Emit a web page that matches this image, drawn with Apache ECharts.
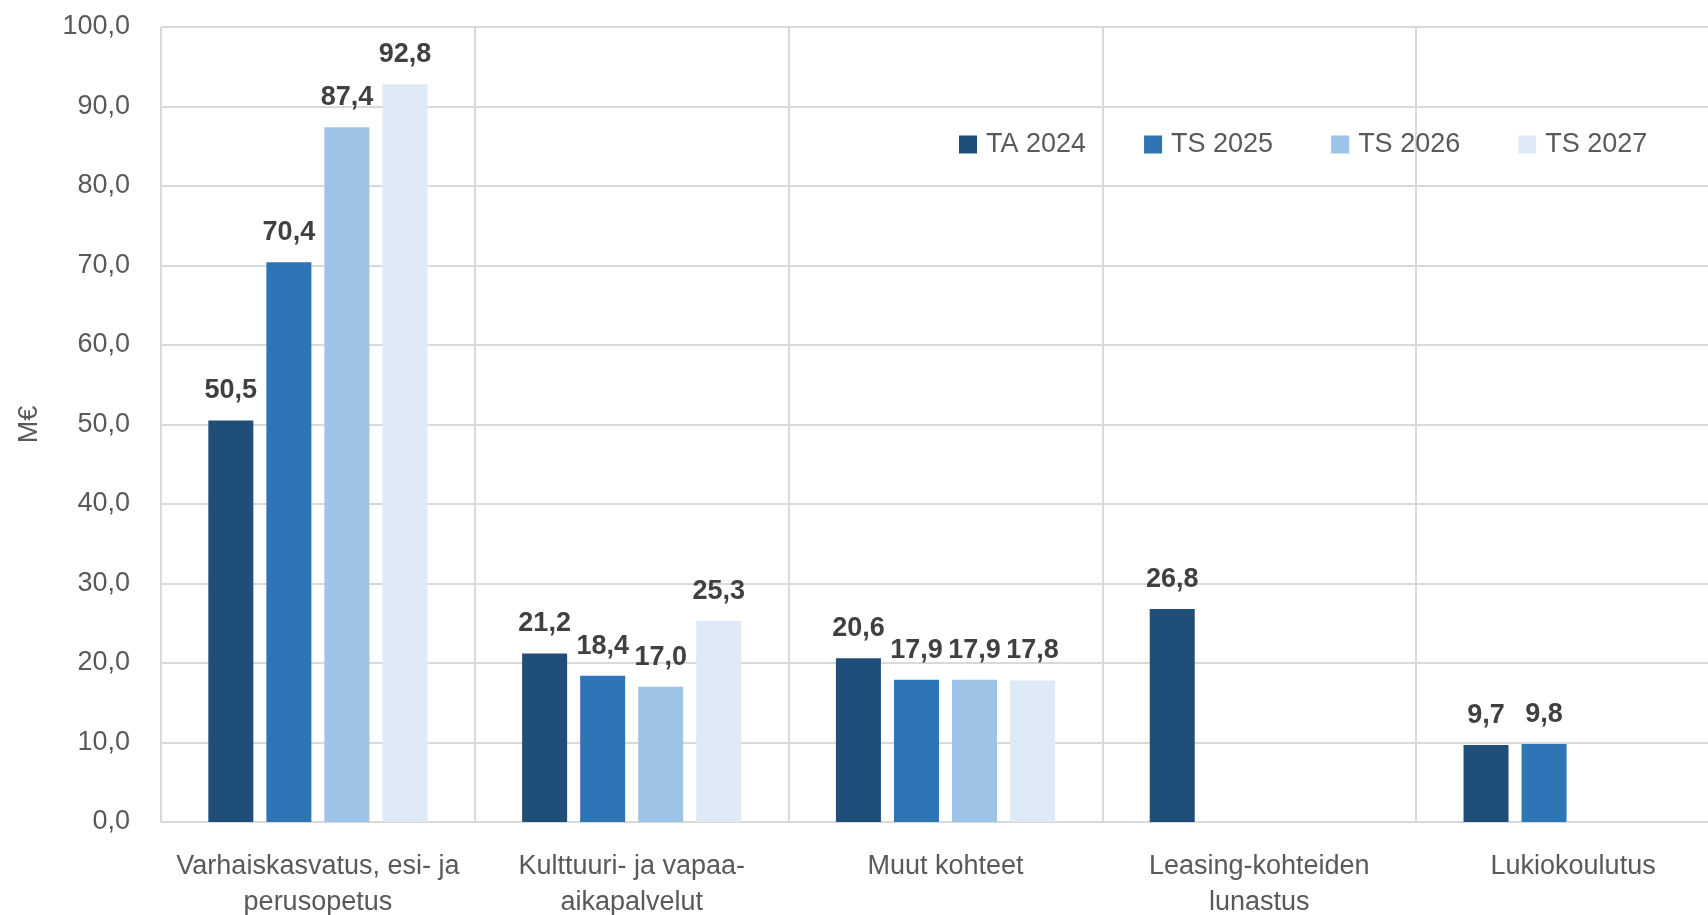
<!DOCTYPE html>
<html>
<head>
<meta charset="utf-8">
<script src="https://cdn.jsdelivr.net/npm/echarts@6/dist/echarts.min.js"></script>
<style>html,body{margin:0;padding:0;background:#fff;}#c{width:1708px;height:915px;}</style>
</head>
<body>
<div id="c"></div>
<script>
const categories = ["Varhaiskasvatus, esi- ja\nperusopetus", "Kulttuuri- ja vapaa-\naikapalvelut", "Muut kohteet", "Leasing-kohteiden\nlunastus", "Lukiokoulutus"];
const seriesNames = ["TA 2024", "TS 2025", "TS 2026", "TS 2027"];
const ta2024 = [50.5, 21.2, 20.6, 26.8, 9.7];
const ts2025 = [70.4, 18.4, 17.9, null, 9.8];
const ts2026 = [87.4, 17.0, 17.9, null, null];
const ts2027 = [92.8, 25.3, 17.8, null, null];
const yTicks = [0, 10, 20, 30, 40, 50, 60, 70, 80, 90, 100];
const colors = ["#1F4E79", "#2E75B6", "#9DC3E6", "#DEEBF7"];

const FONT = "Liberation Sans";
const fmt = v => Number(v).toFixed(1).replace('.', ',');
const allData = [ta2024, ts2025, ts2026, ts2027];

const chart = echarts.init(document.getElementById('c'));
chart.setOption({
  animation: false,
  color: colors,
  textStyle: { fontFamily: FONT },
  grid: { left: 161, right: -22, top: 27, bottom: 93, containLabel: false, outerBoundsMode: 'none' },
  legend: {
    left: 954, top: 126,
    itemWidth: 18, itemHeight: 18, itemGap: 58,
    icon: 'rect',
    textStyle: { fontFamily: FONT, fontSize: 27, color: '#595959', padding: [0, 0, 0, 4] },
    data: seriesNames
  },
  xAxis: {
    type: 'category',
    data: categories,
    axisLine: { show: true, lineStyle: { color: '#D9D9D9', width: 2 } },
    axisTick: { show: false },
    splitLine: { show: true, lineStyle: { color: '#D9D9D9', width: 2 } },
    axisLabel: { fontFamily: FONT, fontSize: 27, color: '#595959', lineHeight: 36, margin: 27, interval: 0 }
  },
  yAxis: {
    type: 'value',
    min: yTicks[0], max: yTicks[yTicks.length - 1], interval: 10,
    name: 'M€', nameLocation: 'middle', nameGap: 118,
    nameTextStyle: { fontFamily: FONT, fontSize: 27, color: '#595959' },
    axisLine: { show: false },
    axisTick: { show: false },
    splitLine: { show: true, lineStyle: { color: '#D9D9D9', width: 2 } },
    axisLabel: { fontFamily: FONT, fontSize: 27, color: '#595959', margin: 31, formatter: v => fmt(v) }
  },
  series: seriesNames.map((n, i) => ({
    name: n,
    type: 'bar',
    data: allData[i],
    barWidth: 45,
    barGap: '29%',
    itemStyle: { color: colors[i] },
    label: {
      show: true, position: 'top', distance: 16,
      fontFamily: FONT, fontSize: 27, fontWeight: 'bold', color: '#404040',
      formatter: p => fmt(p.value)
    }
  }))
});
</script>
</body>
</html>
